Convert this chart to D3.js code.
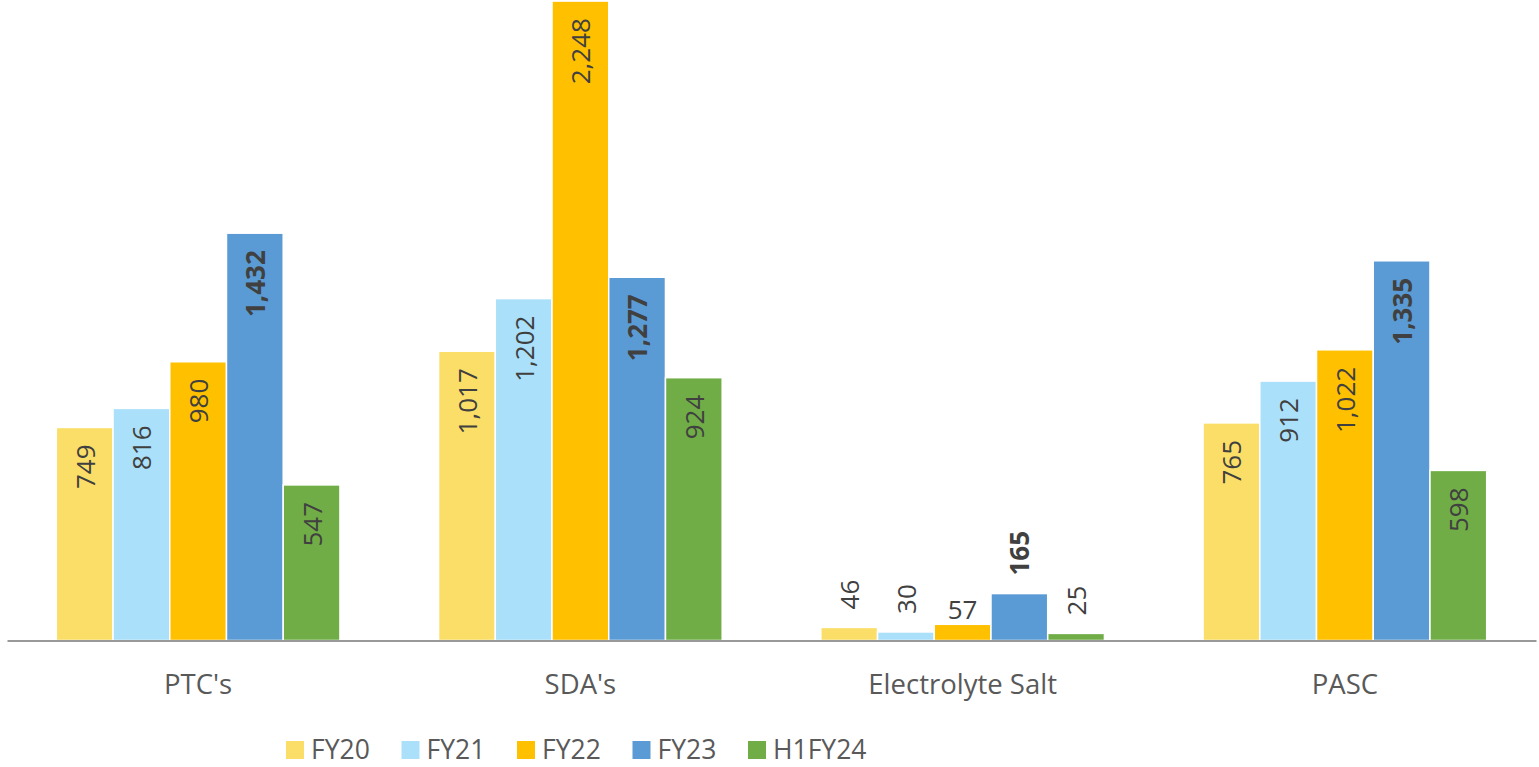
<!DOCTYPE html>
<html>
<head>
<meta charset="utf-8">
<script src="https://cdn.jsdelivr.net/npm/d3@7"></script>
<style>
  html, body { margin: 0; padding: 0; background: #ffffff; }
  svg { display: block; }
  text { font-family: "Open Sans", "DejaVu Sans", sans-serif; }
</style>
</head>
<body>
<svg id="chart" width="1539" height="767"></svg>
<script>
// ---- data ----
const categories = ["PTC's", "SDA's", "Electrolyte Salt", "PASC"];
const seriesNames = ["FY20", "FY21", "FY22", "FY23", "H1FY24"];
const FY20 = [749, 1017, 46, 765];
const FY21 = [816, 1202, 30, 912];
const FY22 = [980, 2248, 57, 1022];
const FY23 = [1432, 1277, 165, 1335];
const H1FY24 = [547, 924, 25, 598];
const seriesValues = [FY20, FY21, FY22, FY23, H1FY24];
const seriesColors = ["#FBDE67", "#ABE0FA", "#FFC000", "#5B9BD5", "#70AD47"];
const boldSeries = ["FY23"];
const horizontalLabels = [["Electrolyte Salt", "FY22"]];

// ---- layout ----
const W = 1539, H = 767;
const plot = { left: 7, right: 1536, top: 0, bottom: 640.5 };
const svg = d3.select("#chart");

const x0 = d3.scaleBand().domain(categories).range([plot.left, plot.right]).paddingInner(0).paddingOuter(0);
const groupWidth = x0.bandwidth() * 0.742;
const x1 = d3.scaleBand().domain(seriesNames).range([0, groupWidth]).padding(0);
const y = d3.scaleLinear().domain([0, 2250]).range([plot.bottom, 0.5]);

const fmt = d3.format(",");

const rows = [];
seriesNames.forEach((s, si) => {
  categories.forEach((c, ci) => {
    rows.push({ series: s, cat: c, value: seriesValues[si][ci], color: seriesColors[si] });
  });
});

const gx = c => x0(c) + (x0.bandwidth() - groupWidth) / 2;

// bars
svg.append("g").selectAll("rect").data(rows).join("rect")
  .attr("x", d => gx(d.cat) + x1(d.series))
  .attr("y", d => y(d.value))
  .attr("width", x1.bandwidth())
  .attr("height", d => y(0) - y(d.value))
  .attr("fill", d => d.color)
  .attr("stroke", "#ffffff")
  .attr("stroke-width", 1.5);

// axis
const xAxis = d3.axisBottom(x0).tickSize(0).tickPadding(0);
const axG = svg.append("g").attr("transform", `translate(0,${plot.bottom})`).call(xAxis);
axG.select(".domain").attr("stroke", "#777777").attr("stroke-width", 1.6);
axG.selectAll(".tick text")
  .attr("y", 53)
  .attr("dy", 0)
  .attr("fill", "#595959")
  .style("font-size", "27.5px")
  .style("font-family", "'Open Sans', sans-serif");

// value labels
const lab = svg.append("g");
rows.forEach(d => {
  const cx = gx(d.cat) + x1(d.series) + x1.bandwidth() / 2;
  const top = y(d.value);
  const h = y(0) - top;
  const isBold = boldSeries.includes(d.series);
  const isHorizontal = horizontalLabels.some(p => p[0] === d.cat && p[1] === d.series);
  const t = lab.append("text")
    .text(fmt(d.value))
    .attr("fill", "#404040")
    .style("font-size", "26px")
    .style("font-weight", isBold ? "bold" : "normal");
  if (isHorizontal) {
    t.attr("x", cx).attr("y", top - 5).attr("text-anchor", "middle");
  } else if (h > 90) {
    t.attr("text-anchor", "end")
      .attr("dominant-baseline", "central")
      .attr("transform", `translate(${cx},${top + 17}) rotate(-90)`);
  } else {
    t.attr("text-anchor", "start")
      .attr("dominant-baseline", "central")
      .attr("transform", `translate(${cx},${top - 18}) rotate(-90)`);
  }
});

// legend
const legendX0 = 286, legendStep = 115.5, legendY = 749;
const lg = svg.append("g");
seriesNames.forEach((s, i) => {
  const lx = legendX0 + i * legendStep;
  lg.append("rect").attr("x", lx).attr("y", legendY - 8).attr("width", 18).attr("height", 18)
    .attr("fill", seriesColors[i]);
  lg.append("text").attr("x", lx + 25).attr("y", legendY).attr("dominant-baseline", "central")
    .attr("fill", "#595959").style("font-size", "26.5px").text(s);
});
</script>
</body>
</html>
